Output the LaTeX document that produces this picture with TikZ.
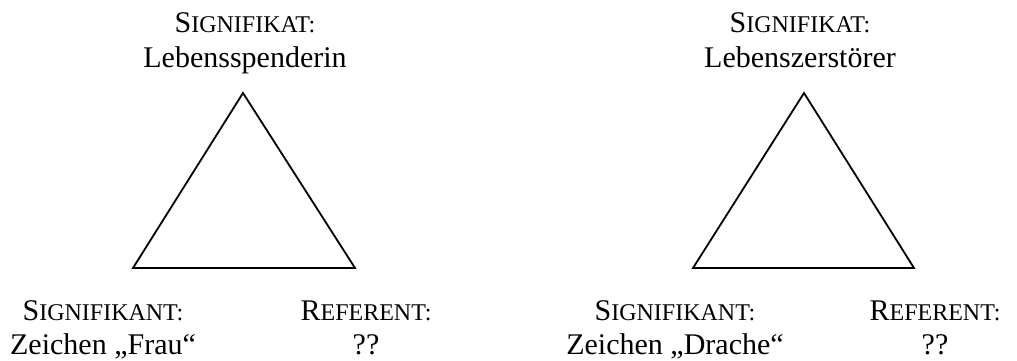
\documentclass[tikz,border=0pt]{standalone}
\usepackage{fontspec}
\setmainfont{Liberation Serif}
\newcommand\fakesc[2]{#1{\fontsize{24}{24}\selectfont #2}}
\begin{document}
\begin{tikzpicture}[x=1pt,y=-1pt,
  lbl/.style={anchor=base,inner sep=0pt,font=\fontsize{30}{30}\selectfont},
  tri/.style={line width=1.8pt,line join=miter}]
\useasboundingbox (0,0) rectangle (1017,361);
% triangle 1
\coordinate (t1) at (243,93);
\coordinate (l1) at (133,268);
\coordinate (r1) at (355,268);
\draw[tri] (t1) -- (l1) -- (r1) -- cycle;
% triangle 2
\coordinate (t2) at (804,93);
\coordinate (l2) at (693,268);
\coordinate (r2) at (914,268);
\draw[tri] (t2) -- (l2) -- (r2) -- cycle;
% labels 1
\node[lbl] (s1a) at (245,33) {\fakesc{S}{IGNIFIKAT:}};
\node[lbl] (s1b) at (245,67) {Lebensspenderin};
\node[lbl] (k1a) at (103,320) {\fakesc{S}{IGNIFIKANT:}};
\node[lbl] (k1b) at (103,354) {Zeichen „Frau“};
\node[lbl] (r1a) at (366,320) {\fakesc{R}{EFERENT:}};
\node[lbl] (r1b) at (366,354) {??};
% labels 2
\node[lbl] (s2a) at (800,33) {\fakesc{S}{IGNIFIKAT:}};
\node[lbl] (s2b) at (800,67) {Lebenszerstörer};
\node[lbl] (k2a) at (675,320) {\fakesc{S}{IGNIFIKANT:}};
\node[lbl] (k2b) at (675,354) {Zeichen „Drache“};
\node[lbl] (r2a) at (935,320) {\fakesc{R}{EFERENT:}};
\node[lbl] (r2b) at (935,354) {??};
\end{tikzpicture}
\end{document}
